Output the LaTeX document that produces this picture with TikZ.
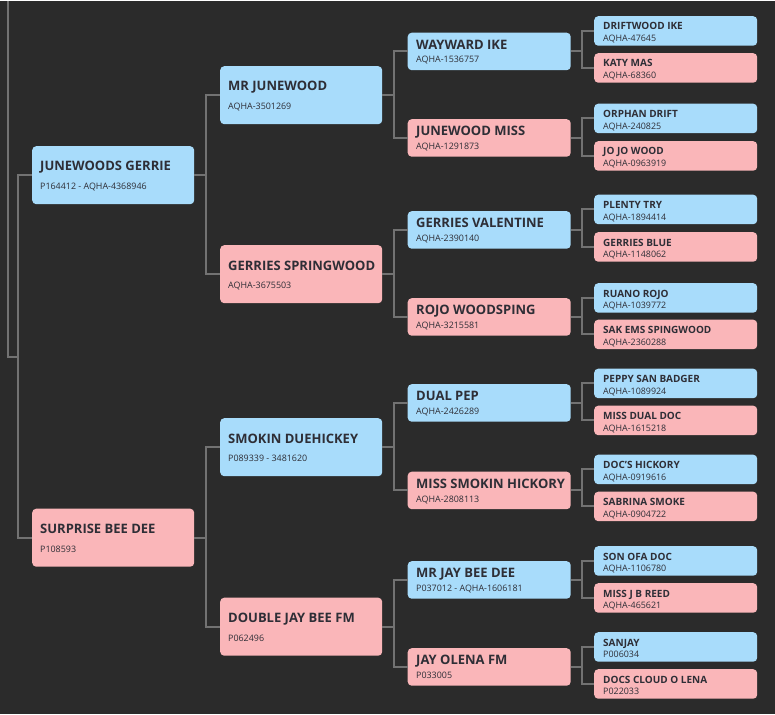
\documentclass[tikz,border=0pt]{standalone}
\usepackage{fontspec}
\setmainfont{Open Sans}

\definecolor{pedbg}{HTML}{2B2B2B}
\definecolor{sire}{HTML}{A8DCFB}
\definecolor{dam}{HTML}{FAB6B9}
\definecolor{linkgray}{HTML}{727272}
\definecolor{ink}{HTML}{2E2E36}

\begin{document}
\begin{tikzpicture}[x=1pt, y=-1pt,
  box/.style={draw=none, rounded corners=4pt, anchor=north west, inner sep=0pt},
  wide/.style={box, minimum width=162pt, minimum height=58pt},
  mid/.style={box, minimum width=163pt, minimum height=37.5pt},
  slim/.style={box, minimum width=163pt, minimum height=29.5pt},
  txt/.style={anchor=base west, inner sep=0pt, text=ink},
  bigname/.style={txt, font=\fontsize{13}{15}\selectfont\bfseries},
  smallname/.style={txt, font=\fontsize{10}{12}\selectfont\bfseries},
  reg/.style={txt, font=\fontsize{8.9}{10}\selectfont},
  link/.style={draw=linkgray, line width=2pt}]

\fill[pedbg] (0,0) rectangle (775,713);

% horses, by generation
\foreach \id/\ytop/\sex/\hname/\regno in {
  jgerrie/145/sire/JUNEWOODS GERRIE/P164412 - AQHA-4368946,
  surprise/507.5/dam/SURPRISE BEE DEE/P108593}{
  \node[wide, fill=\sex] (\id) at (32,\ytop) {};
  \node[bigname] (\id-nm) at ([shift={(8,25)}]\id.north west) {\hname};
  \node[reg] (\id-reg) at ([shift={(8,43.5)}]\id.north west) {\regno};
}
\foreach \id/\ytop/\sex/\hname/\regno in {
  mrjune/65/sire/MR JUNEWOOD/AQHA-3501269,
  gspring/244/dam/GERRIES SPRINGWOOD/AQHA-3675503,
  smokin/417/sire/SMOKIN DUEHICKEY/P089339 - 3481620,
  djbfm/596.5/dam/DOUBLE JAY BEE FM/P062496}{
  \node[wide, fill=\sex] (\id) at (220,\ytop) {};
  \node[bigname] (\id-nm) at ([shift={(8,25)}]\id.north west) {\hname};
  \node[reg] (\id-reg) at ([shift={(8,43.5)}]\id.north west) {\regno};
}
\foreach \id/\ytop/\sex/\hname/\regno in {
  wayward/31.5/sire/WAYWARD IKE/AQHA-1536757,
  junemiss/118/dam/JUNEWOOD MISS/AQHA-1291873,
  gvalen/210/sire/GERRIES VALENTINE/AQHA-2390140,
  rojo/297/dam/ROJO WOODSPING/AQHA-3215581,
  dualpep/383/sire/DUAL PEP/AQHA-2426289,
  mshick/470.5/dam/MISS SMOKIN HICKORY/AQHA-2808113,
  mrjay/560/sire/MR JAY BEE DEE/P037012 - AQHA-1606181,
  jolena/647/dam/JAY OLENA FM/P033005}{
  \node[mid, fill=\sex] (\id) at (407.5,\ytop) {};
  \node[bigname] (\id-nm) at ([shift={(8.5,16.8)}]\id.north west) {\hname};
  \node[reg] (\id-reg) at ([shift={(8.5,30.5)}]\id.north west) {\regno};
}
\foreach \id/\ytop/\sex/\hname/\regno in {
  driftike/15/sire/DRIFTWOOD IKE/AQHA-47645,
  katymas/52/dam/KATY MAS/AQHA-68360,
  orphan/102.5/sire/ORPHAN DRIFT/AQHA-240825,
  jojo/140/dam/JO JO WOOD/AQHA-0963919,
  plenty/193.5/sire/PLENTY TRY/AQHA-1894414,
  gblue/231/dam/GERRIES BLUE/AQHA-1148062,
  ruano/282/sire/RUANO ROJO/AQHA-1039772,
  sakems/318.5/dam/SAK EMS SPINGWOOD/AQHA-2360288,
  peppy/367.5/sire/PEPPY SAN BADGER/AQHA-1089924,
  mduald/404.5/dam/MISS DUAL DOC/AQHA-1615218,
  docshick/453.5/sire/DOC'S HICKORY/AQHA-0919616,
  sabrina/490.5/dam/SABRINA SMOKE/AQHA-0904722,
  sonofa/545/sire/SON OFA DOC/AQHA-1106780,
  mjbreed/582/dam/MISS J B REED/AQHA-465621,
  sanjay/631/sire/SANJAY/P006034,
  docscloud/668/dam/DOCS CLOUD O LENA/P022033}{
  \node[slim, fill=\sex] (\id) at (594,\ytop) {};
  \node[smallname] (\id-nm) at ([shift={(9,14)}]\id.north west) {\hname};
  \node[reg] (\id-reg) at ([shift={(9,25.8)}]\id.north west) {\regno};
}

% links to the root
\coordinate (roottop) at (7.5,0);
\coordinate (rootbar) at (17.5,356);
\draw[link] (roottop) |- (rootbar);
\draw[link] (rootbar) |- (jgerrie.west);
\draw[link] (rootbar) |- (surprise.west);

% links from each horse to sire and dam
\foreach \kid/\sr/\dm in {jgerrie/mrjune/gspring, surprise/smokin/djbfm,
  mrjune/wayward/junemiss, gspring/gvalen/rojo,
  smokin/dualpep/mshick, djbfm/mrjay/jolena,
  wayward/driftike/katymas, junemiss/orphan/jojo,
  gvalen/plenty/gblue, rojo/ruano/sakems,
  dualpep/peppy/mduald, mshick/docshick/sabrina,
  mrjay/sonofa/mjbreed, jolena/sanjay/docscloud}{
  \draw[link] (\kid.east) -- ++(11.5,0) coordinate (\kid-bar) |- (\sr.west);
  \draw[link] (\kid-bar) |- (\dm.west);
}
\end{tikzpicture}
\end{document}
